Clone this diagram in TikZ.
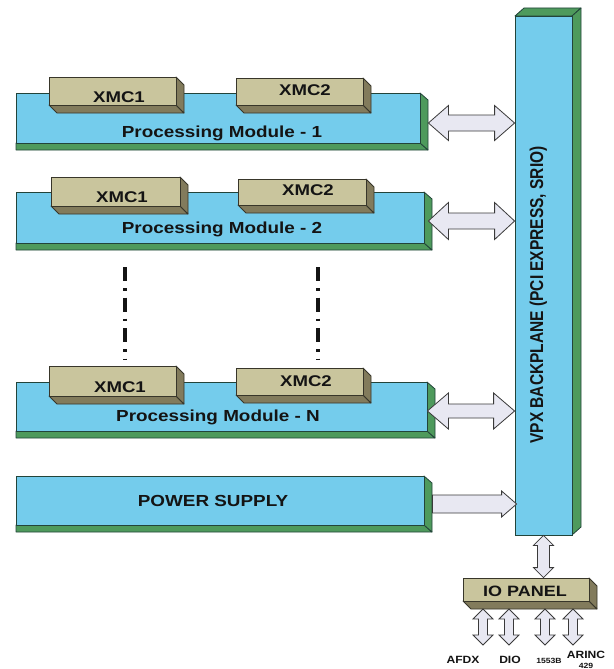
\documentclass[tikz,border=0pt]{standalone}
\usepackage{fontspec}
\usepackage{graphicx}
\setmainfont{Liberation Sans}
\usetikzlibrary{calc}
\definecolor{modblue}{HTML}{74CCEC}
\definecolor{modgreen}{HTML}{4E9A5C}
\definecolor{edgec}{HTML}{22443A}
\definecolor{xmcfront}{HTML}{C9C59D}
\definecolor{xmcdark}{HTML}{827B5C}
\definecolor{xmcedge}{HTML}{38362A}
\definecolor{arrfill}{HTML}{E8E8F2}
\definecolor{arredge}{HTML}{3A3A3A}
\definecolor{txt}{HTML}{141414}
\tikzset{
  modfront/.style={draw=edgec, fill=modblue, line width=0.8pt, inner sep=0pt, rectangle},
  modface/.style={draw=edgec, fill=modgreen, line width=0.8pt, line join=round},
  xmcfrontsty/.style={draw=xmcedge, fill=xmcfront, line width=0.8pt, inner sep=0pt, rectangle},
  xmcface/.style={draw=xmcedge, fill=xmcdark, line width=0.8pt, line join=round},
  blockarrow/.style={draw=arredge, fill=arrfill, line width=0.8pt, line join=miter},
  lbl/.style={text=txt, inner sep=0pt, anchor=base, font=\fontsize{16}{18}\selectfont\bfseries},
  xmclbl/.style={lbl, font=\fontsize{15.5}{18}\selectfont\bfseries},
  iolbl/.style={lbl, font=\fontsize{10.5}{12}\selectfont\bfseries},
  smalllbl/.style={lbl, font=\fontsize{7.5}{9}\selectfont\bfseries},
  dashdotline/.style={draw=txt, line width=3.5pt, dash pattern=on 14pt off 7pt on 2.5pt off 7pt},
}
\newcommand\Wide[2][1.18]{\scalebox{#1}[1]{#2}}
% module slab: name x1 y1 x2 y2
\newcommand\ModSlab[5]{%
  \path[modface] (#2,#5) -- (#4,#5) -- ({#4+8},{#5+7}) -- (#2,{#5+7}) -- cycle;
  \path[modface] (#4,#3) -- ({#4+8},{#3+7}) -- ({#4+8},{#5+7}) -- (#4,#5) -- cycle;
  \node[modfront, minimum width={#4-#2}, minimum height={#5-#3}] (#1) at ({(#2+#4)/2},{(#3+#5)/2}) {};
}
% xmc slab: name x1 y1 x2 y2
\newcommand\XmcSlab[5]{%
  \path[xmcface] (#2,#5) -- (#4,#5) -- ({#4+8},{#5+8}) -- ({#2+8},{#5+8}) -- cycle;
  \path[xmcface] (#4,#3) -- ({#4+8},{#3+8}) -- ({#4+8},{#5+8}) -- (#4,#5) -- cycle;
  \node[xmcfrontsty, minimum width={#4-#2}, minimum height={#5-#3}] (#1) at ({(#2+#4)/2},{(#3+#5)/2}) {};
}
% double horizontal arrow: from node, to node, dx, dy, shaft half, head half, head length
\newcommand\DblArrowH[7]{%
  \path[blockarrow] let \p1=($(#1.east)+(#3,#4)$), \p2=(#2.west) in
   (\x1,\y1) -- (\x1+#7pt,\y1+#6pt) -- (\x1+#7pt,\y1+#5pt) -- (\x2-#7pt,\y1+#5pt)
   -- (\x2-#7pt,\y1+#6pt) -- (\x2,\y1) -- (\x2-#7pt,\y1-#6pt) -- (\x2-#7pt,\y1-#5pt)
   -- (\x1+#7pt,\y1-#5pt) -- (\x1+#7pt,\y1-#6pt) -- cycle;
}
% single horizontal arrow
\newcommand\SglArrowH[7]{%
  \path[blockarrow] let \p1=($(#1.east)+(#3,#4)$), \p2=($(#2.west)+(2,0)$) in
   (\x1,\y1+#5pt) -- (\x2-#7pt,\y1+#5pt) -- (\x2-#7pt,\y1+#6pt) -- (\x2,\y1)
   -- (\x2-#7pt,\y1-#6pt) -- (\x2-#7pt,\y1-#5pt) -- (\x1,\y1-#5pt) -- cycle;
}
% double vertical arrow: top coord, bottom coord, shaft half, head half, head length
\newcommand\DblArrowV[5]{%
  \path[blockarrow] let \p1=(#1), \p2=(#2) in
   (\x1,\y1) -- (\x1+#4pt,\y1-#5pt) -- (\x1+#3pt,\y1-#5pt) -- (\x1+#3pt,\y2+#5pt)
   -- (\x1+#4pt,\y2+#5pt) -- (\x1,\y2) -- (\x1-#4pt,\y2+#5pt) -- (\x1-#3pt,\y2+#5pt)
   -- (\x1-#3pt,\y1-#5pt) -- (\x1-#4pt,\y1-#5pt) -- cycle;
}
\begin{document}
\begin{tikzpicture}[x=1pt,y=-1pt]
\useasboundingbox (0,0) rectangle (613,669);
\fill[white] (0,0) rectangle (613,669);

% backplane
\path[modface] (515,16) -- (524,8) -- (581,8) -- (572,16) -- cycle;
\path[modface] (572,16) -- (581,8) -- (581,527) -- (572,535) -- cycle;
\node[modfront, minimum width=57, minimum height=519] (bp) at (543.5,275.5) {};
\node[lbl, rotate=90, font=\fontsize{15.5}{18}\selectfont\bfseries] (bptxt) at (543,295)
  {\scalebox{1}[1.2]{VPX BACKPLANE (PCI EXPRESS, SRIO)}};

% processing module 1
\ModSlab{m1}{16}{93}{420}{143}
\XmcSlab{m1x1}{49}{77}{176}{105}
\XmcSlab{m1x2}{236}{78}{363}{105}
\node[xmclbl] (m1x1t) at (119,102.5) {\Wide[1.2]{XMC1}};
\node[xmclbl] (m1x2t) at (305,95) {\Wide[1.2]{XMC2}};
\node[lbl] (m1t) at (222,137) {\Wide{Processing Module - 1}};

% processing module 2
\ModSlab{m2}{16}{192}{424}{243}
\XmcSlab{m2x1}{51}{177}{180}{206}
\XmcSlab{m2x2}{238}{179}{366}{205}
\node[xmclbl] (m2x1t) at (122,202.3) {\Wide[1.2]{XMC1}};
\node[xmclbl] (m2x2t) at (308,195) {\Wide[1.2]{XMC2}};
\node[lbl] (m2t) at (222,233.3) {\Wide{Processing Module - 2}};

% dash-dot continuation lines
\coordinate (dd1a) at (125,267); \coordinate (dd1b) at (125,360);
\coordinate (dd2a) at (318,267); \coordinate (dd2b) at (318,360);
\draw[dashdotline] (dd1a) -- (dd1b);
\draw[dashdotline] (dd2a) -- (dd2b);

% processing module N
\ModSlab{mn}{16}{382}{427}{431}
\XmcSlab{mnx1}{49}{366}{176}{396}
\XmcSlab{mnx2}{236}{368}{363}{395}
\node[xmclbl] (mnx1t) at (120,392.7) {\Wide[1.2]{XMC1}};
\node[xmclbl] (mnx2t) at (306,386.7) {\Wide[1.2]{XMC2}};
\node[lbl] (mnt) at (218,421.7) {\Wide{Processing Module - N}};

% power supply
\ModSlab{ps}{16}{476}{424}{525}
\node[lbl] (pst) at (213,506.7) {\Wide{POWER SUPPLY}};

% arrows to backplane
\DblArrowH{m1}{bp}{8}{5}{8}{17.5}{20}
\DblArrowH{m2}{bp}{4}{3.5}{8}{18.5}{20}
\DblArrowH{mn}{bp}{0}{4.5}{7}{18}{21}
\SglArrowH{ps}{bp}{8}{3.5}{9}{13}{15}

% IO panel
\XmcSlab{io}{463}{578}{589}{601}
\node[xmclbl, font=\fontsize{15}{18}\selectfont\bfseries] (iot) at (525,596) {\Wide[1.2]{IO PANEL}};
\DblArrowV{bp.south}{io.north}{6}{10}{10}

% IO arrows
\coordinate (a1t) at (483,609); \coordinate (a1b) at (483,645);
\coordinate (a2t) at (509,609); \coordinate (a2b) at (509,645);
\coordinate (a3t) at (545,609); \coordinate (a3b) at (545,645);
\coordinate (a4t) at (573,609); \coordinate (a4b) at (573,645);
\DblArrowV{a1t}{a1b}{4.5}{10}{10}
\DblArrowV{a2t}{a2b}{4.5}{10}{10}
\DblArrowV{a3t}{a3b}{4.5}{10}{10}
\DblArrowV{a4t}{a4b}{4.5}{10}{10}

\node[iolbl] (afdx) at (463,663) {\Wide[1.15]{AFDX}};
\node[iolbl] (dio) at (510,663) {\Wide[1.15]{DIO}};
\node[smalllbl] (b1553) at (549,663) {\Wide[1.15]{1553B}};
\node[iolbl] (arinc) at (586,658.5) {\Wide[1.15]{ARINC}};
\node[smalllbl] (a429) at (586,668.3) {\Wide[1.15]{429}};
\end{tikzpicture}
\end{document}
